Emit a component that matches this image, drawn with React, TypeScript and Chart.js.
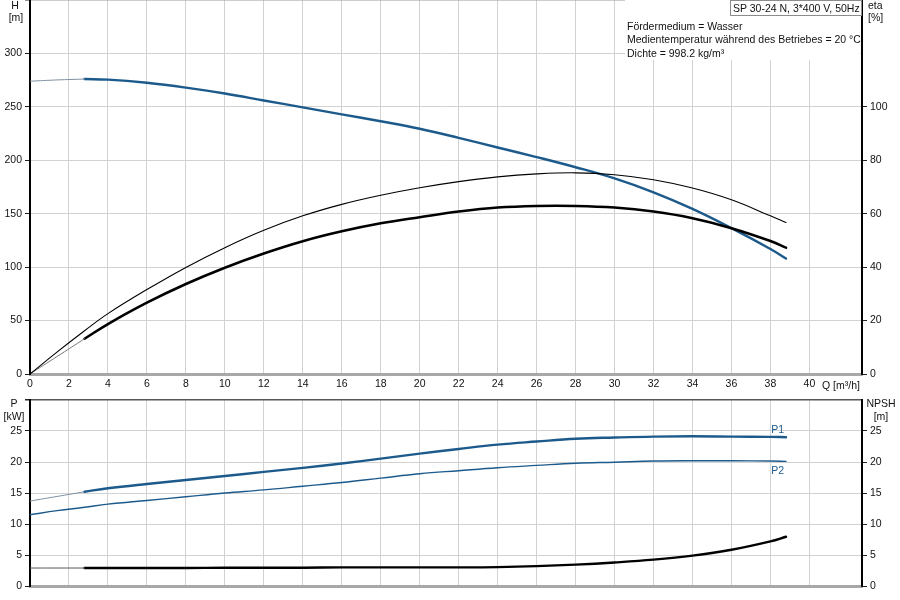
import React, { useEffect, useRef } from 'react';
import { Chart, registerables } from 'chart.js';

Chart.register(...registerables);

// ---------- data ----------
const Q = [0, 1.4, 2.8, 4, 6, 8, 10, 12, 14, 16, 18, 20, 22, 24, 26, 28, 30, 32, 34, 36, 38, 38.8];
const H = [274, 275.2, 276, 275.5, 272.5, 268, 262.5, 256, 249.5, 243, 236.5, 229.5, 221, 212, 203, 193.5, 183, 170, 154.5, 136.5, 117, 108];
const ETA_PUMP = [0, 8.3, 16.2, 22.6, 31.6, 39.9, 47.3, 53.8, 59.2, 63.5, 66.9, 69.7, 72.0, 73.8, 74.9, 75.3, 74.6, 72.7, 69.6, 65.2, 59.2, 56.7];
const ETA_TOTAL = [0, 6.6, 13.2, 18.7, 26.7, 33.7, 39.8, 45.1, 49.7, 53.4, 56.4, 58.7, 60.8, 62.3, 62.9, 62.9, 62.3, 60.8, 58.3, 54.6, 49.8, 47.3];
const P1 = [13.7, 14.45, 15.2, 15.76, 16.46, 17.1, 17.75, 18.4, 19.05, 19.75, 20.55, 21.35, 22.1, 22.8, 23.3, 23.75, 23.95, 24.1, 24.15, 24.1, 24.05, 24.0];
const P2 = [11.5, 12.15, 12.7, 13.2, 13.8, 14.4, 15.0, 15.5, 16.1, 16.7, 17.4, 18.1, 18.6, 19.08, 19.45, 19.8, 19.97, 20.15, 20.2, 20.2, 20.15, 20.1];
const NPSH = [2.9, 2.9, 2.9, 2.9, 2.9, 2.9, 2.95, 2.95, 2.95, 3.0, 3.0, 3.0, 3.0, 3.05, 3.2, 3.45, 3.8, 4.25, 4.9, 5.85, 7.2, 7.94];

const DUTY_START = 2.8;
const Q_LABELS = [0, 2, 4, 6, 8, 10, 12, 14, 16, 18, 20, 22, 24, 26, 28, 30, 32, 34, 36, 38, 40];
const H_LABELS = [0, 50, 100, 150, 200, 250, 300];
const ETA_LABELS = [0, 20, 40, 60, 80, 100];
const P_LABELS = [0, 5, 10, 15, 20, 25];
const NPSH_LABELS = [0, 5, 10, 15, 20, 25];

const TITLE = 'SP 30-24 N, 3*400 V, 50Hz';
const INFO = ['Fördermedium = Wasser', 'Medientemperatur während des Betriebes = 20 °C', 'Dichte = 998.2 kg/m³'];

// ---------- style ----------
const FONT = "'Liberation Sans', Arial, sans-serif";
const FS = 10.5;
const BLUE = '#1c5a8c';
const GRID = '#d2d2d2';
const TXT = '#111';

function pts(ys: number[], keep: (q: number) => boolean) {
  return Q.map((q, i) => ({ x: q, y: ys[i] })).filter((p) => keep(p.x));
}
const pre = (q: number) => q <= DUTY_START;
const duty = (q: number) => q >= DUTY_START;
const all = () => true;

const fixW = (w: number) => (s: any) => {
  s.width = w;
  s.paddingTop = 0;
  s.paddingBottom = 0;
};
const fixH = (h: number) => (s: any) => {
  s.height = h;
  s.paddingLeft = 0;
  s.paddingRight = 0;
};

const line = (data: any[], axis: string, color: string, width: number) => ({
  data,
  yAxisID: axis,
  borderColor: color,
  borderWidth: width,
  pointRadius: 0,
  fill: false,
  tension: 0.4,
  borderCapStyle: 'round' as const,
});

const xScale = (showLabels: boolean, height: number) => ({
  type: 'linear' as const,
  min: 0,
  max: 42.7,
  ticks: {
    display: showLabels,
    stepSize: 2,
    autoSkip: false,
    maxRotation: 0,
    padding: 4,
    color: TXT,
    font: { family: FONT, size: FS },
    callback: (v: any) => (Q_LABELS.includes(Number(v)) ? String(v) : ''),
  },
  grid: { color: GRID, lineWidth: 1, drawTicks: false },
  border: { color: '#a8a8a8', width: 3 },
  afterFit: fixH(height),
});

const yScale = (pos: 'left' | 'right', max: number, step: number, labels: number[], onChart: boolean, width: number, topColor: string) => ({
  type: 'linear' as const,
  position: pos,
  min: 0,
  max,
  ticks: {
    stepSize: step,
    padding: 3,
    color: TXT,
    font: { family: FONT, size: FS },
    callback: (v: any) => (labels.includes(Number(v)) ? String(v) : onChart ? '' : null),
  },
  grid: {
    drawOnChartArea: onChart,
    color: (c: any) => (c.tick && c.tick.value === max ? topColor : GRID),
    lineWidth: (c: any) => (c.tick && c.tick.value === max ? 1.5 : 1),
    tickColor: '#222',
    tickLength: 5,
  },
  border: { color: '#000', width: 2 },
  afterFit: fixW(width),
});

const endLabels = {
  id: 'endLabels',
  afterDatasetsDraw(chart: any) {
    const ctx = chart.ctx;
    const items: [number, string, 'bottom' | 'top', number][] = [
      [0, 'P1', 'bottom', -2],
      [2, 'P2', 'top', 4],
    ];
    ctx.save();
    ctx.font = `${FS}px ${FONT}`;
    ctx.fillStyle = BLUE;
    ctx.textAlign = 'right';
    for (const [idx, text, base, dy] of items) {
      const meta = chart.getDatasetMeta(idx);
      const last = meta.data[meta.data.length - 1];
      if (!last) continue;
      ctx.textBaseline = base;
      ctx.fillText(text, last.x - 2, last.y + dy);
    }
    ctx.restore();
  },
};

function TopChart() {
  const ref = useRef<HTMLCanvasElement>(null);
  useEffect(() => {
    const chart = new Chart(ref.current!, {
      type: 'line',
      data: {
        datasets: [
          line(pts(ETA_PUMP, all), 'yEta', '#000', 1.1),
          line(pts(ETA_TOTAL, pre), 'yEta', '#777', 1),
          line(pts(ETA_TOTAL, duty), 'yEta', '#000', 2.6),
          line(pts(H, pre), 'yH', '#7d8fa0', 1),
          line(pts(H, duty), 'yH', BLUE, 2.4),
        ],
      },
      options: {
        responsive: false,
        maintainAspectRatio: false,
        animation: false,
        layout: { padding: 0 },
        plugins: { legend: { display: false }, tooltip: { enabled: false } },
        scales: {
          x: xScale(true, 26),
          yH: yScale('left', 350, 50, H_LABELS, true, 30, '#9a9a9a'),
          yEta: yScale('right', 140, 20, ETA_LABELS, false, 38, '#000'),
        } as any,
      },
    });
    return () => chart.destroy();
  }, []);
  return <canvas ref={ref} width={900} height={400} style={{ position: 'absolute', left: 0, top: 0, width: 900, height: 400 }} />;
}

function BottomChart() {
  const ref = useRef<HTMLCanvasElement>(null);
  useEffect(() => {
    const chart = new Chart(ref.current!, {
      type: 'line',
      data: {
        datasets: [
          line(pts(P1, duty), 'yP', BLUE, 2.4),
          line(pts(P1, pre), 'yP', '#7d8fa0', 1),
          line(pts(P2, all), 'yP', BLUE, 1.4),
          line(pts(NPSH, pre), 'yN', '#555', 1),
          line(pts(NPSH, duty), 'yN', '#000', 2.4),
        ],
      },
      options: {
        responsive: false,
        maintainAspectRatio: false,
        animation: false,
        layout: { padding: { top: 10, left: 0, right: 0, bottom: 0 } },
        plugins: { legend: { display: false }, tooltip: { enabled: false } },
        scales: {
          x: xScale(false, 14),
          yP: yScale('left', 30, 5, P_LABELS, true, 30, '#555'),
          yN: yScale('right', 30, 5, NPSH_LABELS, false, 38, '#000'),
        } as any,
      },
      plugins: [endLabels],
    });
    return () => chart.destroy();
  }, []);
  return <canvas ref={ref} width={900} height={210} style={{ position: 'absolute', left: 0, top: 390, width: 900, height: 210 }} />;
}

const txt: React.CSSProperties = {
  position: 'absolute',
  fontFamily: FONT,
  fontSize: FS,
  lineHeight: '12px',
  height: 12,
  color: TXT,
  whiteSpace: 'nowrap',
};

function Centered({ cx, cy, children }: { cx: number; cy: number; children: React.ReactNode }) {
  return <div style={{ ...txt, left: cx - 30, width: 60, top: cy - 6, textAlign: 'center' }}>{children}</div>;
}
function Left({ x, cy, children }: { x: number; cy: number; children: React.ReactNode }) {
  return <div style={{ ...txt, left: x, top: cy - 6 }}>{children}</div>;
}

export default function App() {
  return (
    <div style={{ position: 'fixed', left: 0, top: 0, width: 900, height: 600, background: '#fff', overflow: 'hidden' }}>
      <TopChart />
      <BottomChart />
      <div style={{ position: 'absolute', left: 625, top: 0, width: 235, height: 60, background: '#fff' }} />
      <div
        style={{
          ...txt,
          left: 730,
          top: 0,
          width: 128,
          height: 14,
          lineHeight: '14px',
          border: '1px solid #8c8c8c',
          background: '#fff',
          paddingLeft: 2,
        }}
      >
        {TITLE}
      </div>
      {INFO.map((t, i) => (
        <Left key={t} x={627} cy={26 + i * 13.3}>
          {t}
        </Left>
      ))}
      <Centered cx={15} cy={5}>H</Centered>
      <Centered cx={16} cy={17}>[m]</Centered>
      <Left x={868} cy={5}>eta</Left>
      <Left x={868} cy={17}>[%]</Left>
      <Centered cx={14} cy={403}>P</Centered>
      <Centered cx={14} cy={416}>[kW]</Centered>
      <Centered cx={881} cy={403}>NPSH</Centered>
      <Centered cx={881} cy={416}>[m]</Centered>
      <Left x={822} cy={385}>Q [m³/h]</Left>
    </div>
  );
}
